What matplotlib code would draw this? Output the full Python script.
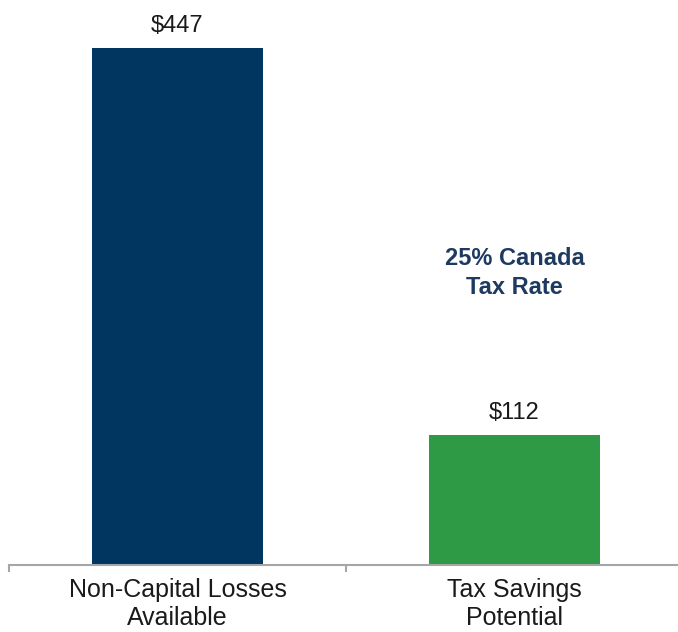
import matplotlib
matplotlib.use('Agg')
import matplotlib.pyplot as plt

categories = ['Non-Capital Losses\nAvailable', 'Tax Savings\nPotential']
values = [447, 112]
value_labels = ['$447', '$112']
bar_colors = ['#003660', '#2e9a45']
note = '25% Canada\nTax Rate'

plt.rcParams['font.family'] = ['Liberation Sans', 'DejaVu Sans']

fig = plt.figure(figsize=(6.78, 6.32), dpi=100)
ax = fig.add_axes([9/678, 67/632, 674/678, 565/632])

x = list(range(len(values)))
bars = ax.bar(x, values, width=0.51, color=bar_colors)
ax.set_xlim(-0.5, 1.5)
ax.set_ylim(0, 447 * 565 / 517)

# value labels above bars
for b, lab in zip(bars, value_labels):
    ax.annotate(lab, (b.get_x() + b.get_width() / 2, b.get_height()),
                xytext=(0, 16), textcoords='offset points',
                ha='center', va='center', fontsize=17, color='#1a1a1a')

ax.text(1, 0.517, note, transform=ax.get_xaxis_transform(),
        ha='center', va='center', fontsize=17, fontweight='bold',
        color='#1f3a60', linespacing=1.3)

for s in ['top', 'left', 'right']:
    ax.spines[s].set_visible(False)
ax.spines['bottom'].set_color('#a6a6a6')
ax.spines['bottom'].set_linewidth(1.5)

ax.set_yticks([])
ax.set_xticks(x)
ax.set_xticklabels(categories, fontsize=18, color='#1a1a1a', linespacing=1.25)
ax.tick_params(axis='x', which='major', length=0, pad=9)
ax.set_xticks([-0.5, 0.5, 1.5], minor=True)
ax.tick_params(axis='x', which='minor', length=5, width=1.5, color='#a6a6a6')

fig.savefig('out.png', dpi=100)
